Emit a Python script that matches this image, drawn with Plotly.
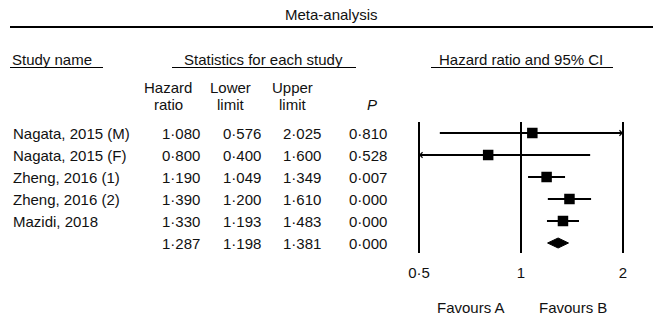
import math
import plotly.graph_objects as go

# ---------------- data ----------------
studies = ["Nagata, 2015 (M)", "Nagata, 2015 (F)", "Zheng, 2016 (1)",
           "Zheng, 2016 (2)", "Mazidi, 2018"]
hazard_ratio = [1.080, 0.800, 1.190, 1.390, 1.330]
lower_limit = [0.576, 0.400, 1.049, 1.200, 1.193]
upper_limit = [2.025, 1.600, 1.349, 1.610, 1.483]
p_values = [0.810, 0.528, 0.007, 0.000, 0.000]
pooled_hr = 1.287
pooled_lower = 1.198
pooled_upper = 1.381
pooled_p = 0.000
tick_values = [0.5, 1, 2]
tick_labels = ["0·5", "1", "2"]

# ---------------- layout constants ----------------
W, H = 654, 333
FONT = "Liberation Sans, Arial, Helvetica, sans-serif"
FS = 15
INK = "#111111"
ROW0, ROWDY = 133, 22          # pixel y of first row, row spacing
X_LO_PX, X_HI_PX = 419, 623     # pixel x of axis min / max


def fmt(v):
    return f"{v:.3f}".replace(".", "·")


def px_x(p):
    return p / W


def px_y(p):
    return 1 - p / H


def row_from_px(p):
    return (p - ROW0) / ROWDY


axis_min, axis_max = min(tick_values), max(tick_values)
k = (X_HI_PX - X_LO_PX) / (math.log10(axis_max) - math.log10(axis_min))
x_range = [math.log10(axis_min) - X_LO_PX / k, math.log10(axis_max) + (W - X_HI_PX) / k]
y_range = [(H - ROW0) / ROWDY, -ROW0 / ROWDY]

fig = go.Figure()

# vertical reference lines at tick values
for tv in tick_values:
    fig.add_trace(go.Scatter(x=[tv, tv], y=[row_from_px(122), row_from_px(253)],
                             mode="lines", line=dict(color="black", width=2),
                             hoverinfo="skip", showlegend=False))

# confidence intervals (clipped to axis)
rows = list(range(len(studies)))
for i in rows:
    fig.add_trace(go.Scatter(x=[max(lower_limit[i], axis_min), min(upper_limit[i], axis_max)],
                             y=[i, i], mode="lines", line=dict(color="black", width=2),
                             hoverinfo="skip", showlegend=False))

# point estimates
fig.add_trace(go.Scatter(x=hazard_ratio, y=rows, mode="markers",
                         marker=dict(symbol="square", size=10.5, color="black"),
                         showlegend=False))

# pooled diamond
pr = len(studies)
hh = 5 / ROWDY
fig.add_trace(go.Scatter(x=[pooled_lower, pooled_hr, pooled_upper, pooled_hr, pooled_lower],
                         y=[pr, pr - hh, pr, pr + hh, pr], mode="lines", fill="toself",
                         fillcolor="black", line=dict(color="black", width=1),
                         showlegend=False))

annotations = []
# arrows for clipped intervals
for i in rows:
    if upper_limit[i] > axis_max:
        annotations.append(dict(x=math.log10(axis_max), y=i, xref="x", yref="y", text="",
                                showarrow=True, ax=-12, ay=0, arrowhead=4, arrowsize=0.7,
                                arrowwidth=1.5, arrowcolor="black", standoff=0))
    if lower_limit[i] < axis_min:
        annotations.append(dict(x=math.log10(axis_min), y=i, xref="x", yref="y", text="",
                                showarrow=True, ax=12, ay=0, arrowhead=4, arrowsize=0.7,
                                arrowwidth=1.5, arrowcolor="black", standoff=0))


def txt(text, x, y, xanchor="center", yref="paper", size=FS):
    annotations.append(dict(text=text, x=x, y=y, xref="paper", yref=yref,
                            xanchor=xanchor, yanchor="middle", showarrow=False,
                            font=dict(family=FONT, size=size, color=INK)))


# headers
txt("Meta-analysis", px_x(331), px_y(15))
txt("Study name", px_x(10), px_y(59), xanchor="left")
txt("Statistics for each study", px_x(263), px_y(59))
txt("Hazard ratio and 95% CI", px_x(521), px_y(59))
txt("Hazard", px_x(168), px_y(87))
txt("ratio", px_x(168), px_y(104))
txt("Lower", px_x(230), px_y(87))
txt("limit", px_x(230), px_y(104))
txt("Upper", px_x(292), px_y(87))
txt("limit", px_x(292), px_y(104))
txt("<i>P</i>", px_x(372), px_y(104))

# table rows
col_right = [202, 263, 323, 389]
for i in rows:
    txt(studies[i], px_x(11), i, xanchor="left", yref="y")
    for c, v in zip(col_right, [hazard_ratio[i], lower_limit[i], upper_limit[i], p_values[i]]):
        txt(fmt(v), px_x(c), i, xanchor="right", yref="y")
for c, v in zip(col_right, [pooled_hr, pooled_lower, pooled_upper, pooled_p]):
    txt(fmt(v), px_x(c), pr, xanchor="right", yref="y")

txt("Favours A", px_x(471), px_y(307))
txt("Favours B", px_x(573), px_y(307))

shapes = [
    dict(type="line", xref="paper", yref="paper", x0=px_x(10), x1=px_x(653),
         y0=px_y(27), y1=px_y(27), line=dict(color="black", width=2)),
    dict(type="line", xref="paper", yref="paper", x0=px_x(10), x1=px_x(103),
         y0=px_y(67.5), y1=px_y(67.5), line=dict(color="black", width=1)),
    dict(type="line", xref="paper", yref="paper", x0=px_x(172), x1=px_x(356),
         y0=px_y(67.5), y1=px_y(67.5), line=dict(color="black", width=1)),
    dict(type="line", xref="paper", yref="paper", x0=px_x(431), x1=px_x(613),
         y0=px_y(67.5), y1=px_y(67.5), line=dict(color="black", width=1)),
]

fig.update_layout(
    width=W, height=H, margin=dict(l=0, r=0, t=0, b=0),
    paper_bgcolor="white", plot_bgcolor="white",
    font=dict(family=FONT, size=FS, color=INK),
    xaxis=dict(type="log", range=x_range, domain=[0, 1], showgrid=False, zeroline=False,
               showline=False, ticks="", tickvals=tick_values, ticktext=tick_labels,
               anchor="free", position=px_y(262), tickfont=dict(family=FONT, size=FS, color=INK),
               fixedrange=True),
    yaxis=dict(range=y_range, domain=[0, 1], visible=False, fixedrange=True),
    annotations=annotations, shapes=shapes, showlegend=False,
)

fig.write_html("out.html", config={"displayModeBar": False},
               post_script="document.body.style.margin='0px';document.body.style.overflow='hidden';")
